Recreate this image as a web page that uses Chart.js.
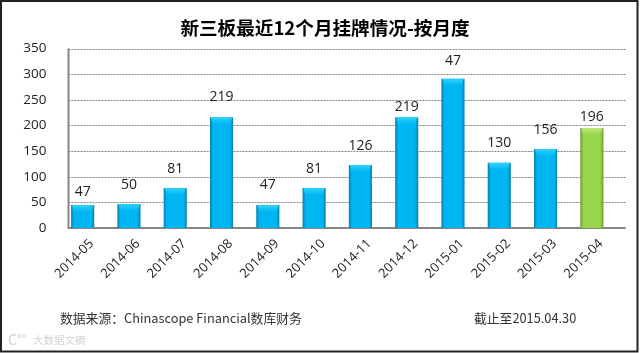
<!DOCTYPE html>
<html><head><meta charset="utf-8">
<style>html,body{margin:0;padding:0;background:#fff}#w{width:640px;height:353px}</style>
<script src="https://cdn.jsdelivr.net/npm/chart.js@4"></script></head>
<body><div id="w"><canvas id="c" width="640" height="353"></canvas></div>
<script>
const categories = ['2014-05','2014-06','2014-07','2014-08','2014-09','2014-10','2014-11','2014-12','2015-01','2015-02','2015-03','2015-04'];
const barHeights = [45,47,78,216,45,78,123,216,291,127,154,195];
const printedLabels = ['47','50','81','219','47','81','126','219','47','130','156','196'];
const labelLift = [13,19,19,20,20,19,19,10,18,20,19,11];
const yTicks = [0,50,100,150,200,250,300,350];
const titleText = '新三板最近12个月挂牌情况-按月度';
const sourceText = '数据来源：Chinascope Financial数库财务';
const asOfText = '截止至2015.04.30';
const watermarkText = '大数据文摘';
const latin = '"Open Sans","Noto Sans CJK SC",sans-serif';
const cjk = '"Noto Sans CJK SC","Open Sans",sans-serif';
const depthShift = 9; // the picture's back wall sits to the right of the bars

function barGradient(ctx){
  const sx = ctx.chart.scales.x;
  const green = ctx.dataIndex === categories.length-1;
  const edge = green ? '#6f9a35' : '#0a7fae', mid = green ? '#97d64a' : '#00b6f2';
  if(!sx || ctx.dataIndex === undefined) return mid;
  const x = sx.getPixelForValue(ctx.dataIndex), w = sx.width/categories.length/2;
  if(!isFinite(x) || !isFinite(w)) return mid;
  const g = ctx.chart.ctx.createLinearGradient(x-w/2,0,x+w/2,0);
  g.addColorStop(0,edge); g.addColorStop(0.14,mid); g.addColorStop(0.86,mid); g.addColorStop(1,edge);
  return g;
}
const decor = {
  id:'decor',
  beforeDraw(chart){
    const c = chart.ctx;
    c.save();
    c.fillStyle='#fff'; c.fillRect(0,0,640,353);
    c.strokeStyle='#222'; c.lineWidth=2;
    c.strokeRect(1,1,636.5,350.5);
    c.restore();
  },
  beforeDatasetsDraw(chart){
    const c = chart.ctx, y = chart.scales.y, a = chart.chartArea;
    const l = a.left+depthShift, r = a.right+depthShift+1.7;
    c.save();
    c.strokeStyle='#858585'; c.lineWidth=1; c.setLineDash([2,1]);
    yTicks.slice(1).forEach(v=>{const p=Math.round(y.getPixelForValue(v))+.5;c.beginPath();c.moveTo(l,p);c.lineTo(r,p);c.stroke();});
    c.setLineDash([]); c.strokeStyle='#868686'; c.lineWidth=2;
    c.beginPath();c.moveTo(l,y.getPixelForValue(350));c.lineTo(l,y.getPixelForValue(0));c.lineTo(r,y.getPixelForValue(0));c.stroke();
    c.restore();
  },
  afterDatasetsDraw(chart){
    const c = chart.ctx;
    chart.getDatasetMeta(0).data.forEach((b,i)=>{
      const w=b.width, green=i===categories.length-1;
      c.save();
      const cap = c.createLinearGradient(0,b.y,0,b.y+7);
      cap.addColorStop(0, green ? '#bfe878' : '#30d2fb');
      cap.addColorStop(1, green ? '#97d64a' : '#00b6f2');
      c.fillStyle = cap;
      c.beginPath();
      c.moveTo(b.x-w/2+1,b.y);c.lineTo(b.x+w/2-1,b.y);c.lineTo(b.x+w/2-3,b.y+7);c.lineTo(b.x-w/2+3,b.y+7);c.closePath();c.fill();
      c.fillStyle='#222'; c.font='14px '+latin; c.textAlign='center'; c.textBaseline='middle';
      c.fillText(printedLabels[i],b.x,b.y-labelLift[i]);
      c.restore();
    });
    c.save();
    c.fillStyle='#333'; c.textBaseline='middle'; c.textAlign='left';
    c.font='12.8px '+cjk;
    c.fillText(sourceText,60,318);
    c.fillText(asOfText,474,318);
    c.fillStyle='#d2d2d2';
    c.font='14px '+cjk;
    c.fillText('C°°',8,340);
    c.font='10.5px '+cjk;
    c.fillText(watermarkText,33,340);
    c.restore();
  }
};
new Chart(document.getElementById('c'),{
  type:'bar',
  data:{labels:categories,datasets:[{data:barHeights,backgroundColor:barGradient,barPercentage:0.5,categoryPercentage:1}]},
  plugins:[decor],
  options:{
    responsive:false,animation:false,
    layout:{padding:{left:10,right:0,top:0,bottom:0}},
    plugins:{legend:{display:false},tooltip:{enabled:false},
      title:{display:true,text:titleText,color:'#000',font:{family:cjk,size:18.6,weight:'bold',lineHeight:1.2},padding:{top:17,bottom:9.2}}},
    scales:{
      x:{grid:{display:false},border:{display:false},
        afterFit(s){s.height=125;},
        ticks:{color:'#222',font:{family:latin,size:13},minRotation:45,maxRotation:45,padding:0,labelOffset:9,autoSkip:false}},
      y:{min:0,max:350,grid:{display:false},border:{display:false},
        afterFit(s){s.width=49.5;},
        afterBuildTicks(s){s.ticks=yTicks.map(v=>({value:v}));},
        ticks:{color:'#222',font:{family:latin,size:13.5},padding:5}},
      spare:{type:'linear',position:'right',min:0,max:1,grid:{display:false},border:{display:false},
        ticks:{display:false},afterFit(s){s.width=25;}}
    }
  }
});
</script></body></html>
